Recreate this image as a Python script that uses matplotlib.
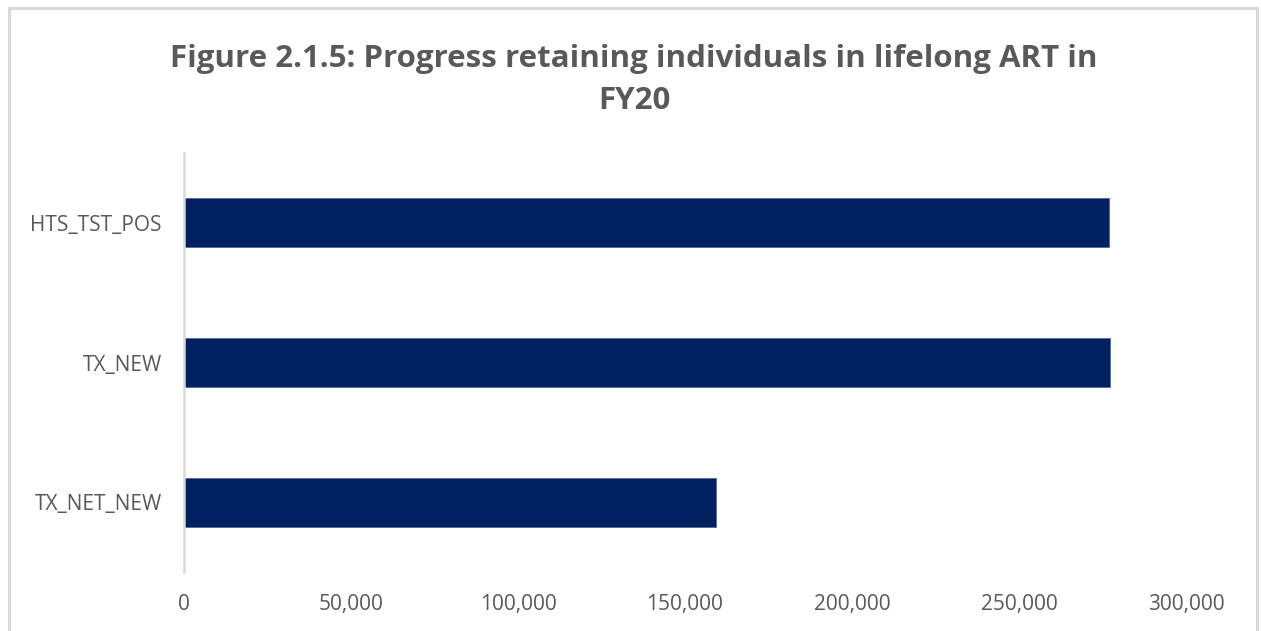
import matplotlib
matplotlib.use("Agg")
import matplotlib.pyplot as plt
from matplotlib.ticker import FuncFormatter, MultipleLocator
from matplotlib.patches import Rectangle

# Indicator values, FY20
categories = ["HTS_TST_POS", "TX_NEW", "TX_NET_NEW"]
values = [276800, 277300, 159200]
title = "Figure 2.1.5: Progress retaining individuals in lifelong ART in\nFY20"

bar_color = "#002060"
text_color = "#595959"
axis_color = "#d9d9d9"

plt.rcParams["font.family"] = ["Open Sans", "DejaVu Sans"]

W, H = 1261, 631
fig = plt.figure(figsize=(W / 100, H / 100), dpi=100)

# Chart frame
fig.patches.append(Rectangle((9 / W, -0.01), (1257 - 9) / W, (H - 8) / H + 0.01,
                             transform=fig.transFigure, fill=False,
                             edgecolor=axis_color, linewidth=2.2))

left, right = 184 / W, 1186 / W
top, bottom = 1 - 153 / H, 1 - 572 / H
ax = fig.add_axes([left, bottom, right - left, top - bottom])

y = list(range(len(categories)))[::-1]
ax.barh(y, values, height=0.35, color=bar_color, edgecolor="#4a6aa0", linewidth=0.6)

ax.set_xlim(0, 300000)
ax.set_ylim(-0.5, len(categories) - 0.5)
ax.set_yticks(y)
ax.set_yticklabels(categories)
ax.xaxis.set_major_locator(MultipleLocator(50000))
ax.xaxis.set_major_formatter(FuncFormatter(lambda v, p: f"{int(v):,}"))

for s in ["top", "right", "bottom"]:
    ax.spines[s].set_visible(False)
ax.spines["left"].set_color(axis_color)
ax.spines["left"].set_linewidth(1.8)

ax.tick_params(axis="both", length=0, colors=text_color, labelsize=15)
ax.tick_params(axis="y", pad=16)
ax.tick_params(axis="x", pad=16)

fig.text(634 / W, 1 - 80 / H, title, ha="center", va="center",
         fontsize=22.5, fontweight="bold", color=text_color, linespacing=1.55)

fig.savefig("out.png", dpi=100, facecolor="white")
